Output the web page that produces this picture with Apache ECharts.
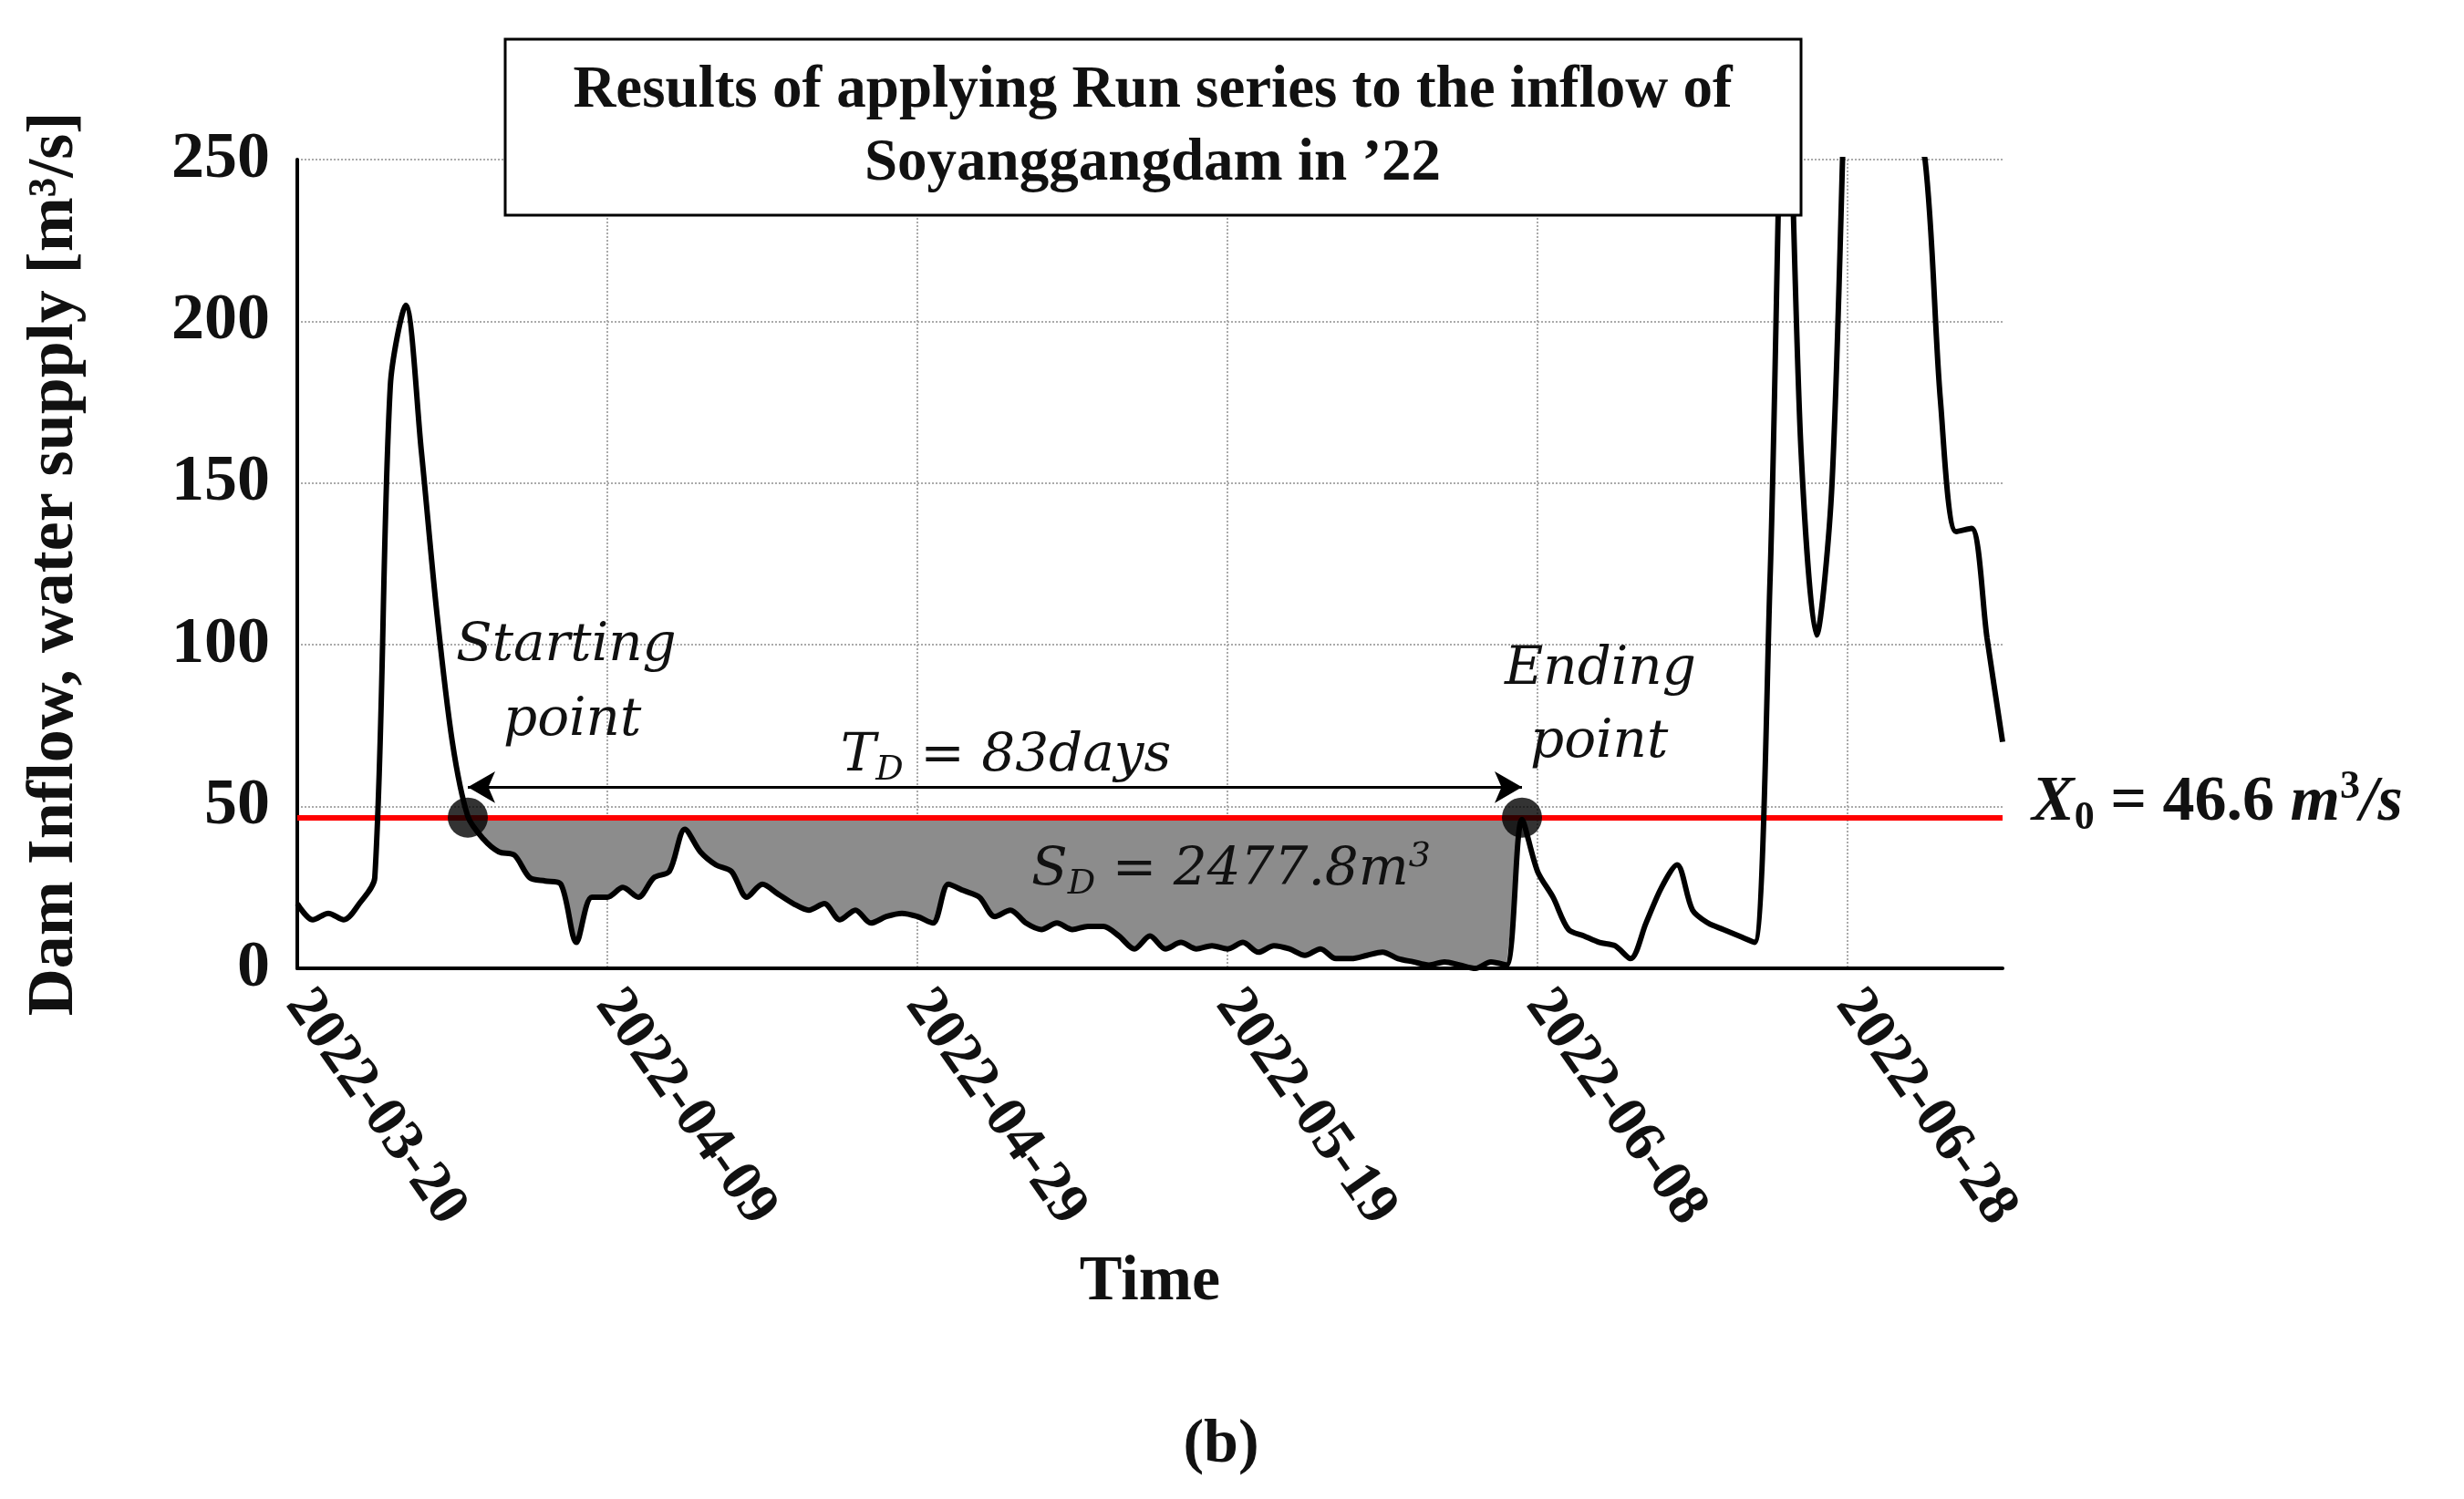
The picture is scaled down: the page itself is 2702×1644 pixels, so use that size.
<!DOCTYPE html>
<html><head><meta charset="utf-8">
<script src="https://cdn.jsdelivr.net/npm/echarts@6/dist/echarts.min.js"></script>
<style>html,body{margin:0;background:#fff}#c{width:2702px;height:1644px}</style>
</head><body><div id="c"></div>
<script>
// daily inflow, m3/s, starting 2022-03-20
var inflow = [20,15,17,15,20,28,180,205,160,110,70,47,40,36,35,28,27,26,8,22,
  22,25,22,28,30,43,36,32,30,22,26,23,20,18,20,15,18,14,16,17,
  16,14,26,24,22,16,18,14,12,14,12,13,13,10,6,10,6,8,6,7,
  6,8,5,7,6,4,6,3,3,4,5,3,2,1,2,1,0,2,1,46,
  30,22,12,10,8,7,3,14,25,32,18,14,12,10,8,120,300,160,103,150,
  300,400,350,300,260,250,175,135,136,102,70];
var X0 = 46.6;
var startIdx = 11, endIdx = 79;

var dates = [];
var d0 = new Date(Date.UTC(2022,2,20));
for (var i = 0; i < inflow.length; i++) {
  var d = new Date(d0.getTime() + i*86400000);
  dates.push(d.toISOString().slice(0,10));
}
var base = inflow.map(function(v,i){ return (i>=startIdx && i<=endIdx) ? Math.min(v,X0) : '-'; });
var deficit = inflow.map(function(v,i){ return (i>=startIdx && i<=endIdx) ? Math.max(X0-v,0) : '-'; });

var serif = '"Liberation Serif","DejaVu Serif",serif';
var chart = echarts.init(document.getElementById('c'));
var txt = function(x,y,t){
  return {type:'text', left:x, top:y, style:{text:t, font:'italic 58px "DejaVu Serif",serif', fill:'#111'}, z:20};
};
chart.setOption({
  animation:false,
  grid:{left:326, top:175, width:1870, height:887},
  xAxis:{type:'category', data:dates, boundaryGap:false,
    axisLine:{lineStyle:{color:'#000',width:4}}, axisTick:{show:false},
    axisLabel:{interval:19, rotate:-55, fontFamily:serif, fontWeight:'bold', fontSize:64, color:'#111', margin:30},
    splitLine:{show:true, interval:19, lineStyle:{type:'dotted', color:'#aaa', width:2}},
    name:'Time', nameLocation:'middle', nameGap:310,
    nameTextStyle:{fontFamily:serif, fontWeight:'bold', fontSize:70, color:'#111'}},
  yAxis:{type:'value', min:0, max:250, interval:50,
    axisLine:{show:true, lineStyle:{color:'#000',width:4}}, axisTick:{show:false},
    axisLabel:{fontFamily:serif, fontWeight:'bold', fontSize:72, color:'#111', margin:30},
    splitLine:{lineStyle:{type:'dotted', color:'#aaa', width:2}},
    name:'Dam Inflow, water supply [m³/s]', nameLocation:'middle', nameGap:230,
    nameTextStyle:{fontFamily:serif, fontWeight:'bold', fontSize:72, color:'#111'}},
  series:[
    {type:'line', data:base, stack:'d', symbol:'none', lineStyle:{opacity:0}, z:1},
    {type:'line', data:deficit, stack:'d', symbol:'none', lineStyle:{opacity:0},
      areaStyle:{color:'#8c8c8c', opacity:1}, z:1},
    {type:'line', data:inflow, symbol:'none', smooth:0.3, lineStyle:{color:'#000', width:6}, z:5,
      markLine:{silent:true, symbol:'none', label:{show:false},
        lineStyle:{color:'#ff0000', width:6, type:'solid'}, data:[{yAxis:X0}]}},
    {type:'line', data:[], markLine:{silent:true, symbol:['arrow','arrow'], symbolSize:[26,30],
        label:{show:false}, lineStyle:{color:'#000', width:3, type:'solid'},
        data:[[{xAxis:startIdx, yAxis:56},{xAxis:endIdx, yAxis:56}]]}},
    {type:'scatter', data:[[startIdx,X0],[endIdx,X0]], symbolSize:44, itemStyle:{color:'#000'}, z:10}
  ],
  graphic:[
    {type:'rect', shape:{x:554, y:43, width:1421, height:193}, style:{fill:'#fff', stroke:'#000', lineWidth:3}, z:15},
    {type:'text', x:1264, y:140, style:{text:'Results of applying Run series to the inflow of\nSoyanggangdam in \u201922',
      font:'bold 65px '+serif, fill:'#111', align:'center', verticalAlign:'middle', lineHeight:80}, z:16},
    txt(500,680,'Starting'), txt(552,762,'point'),
    txt(1650,706,'Ending'), txt(1678,786,'point'),
    {type:'text', x:1103, y:830, z:20, style:{align:'center', verticalAlign:'middle',
      text:'{i|T}{s|D}{i| = 83days}', rich:{i:{font:'italic 58px "DejaVu Serif",serif', fill:'#111'}, s:{font:'italic 38px "DejaVu Serif",serif', fill:'#111', padding:[30,0,0,0]}}}},
    {type:'text', x:1350, y:955, z:20, style:{align:'center', verticalAlign:'middle',
      text:'{i|S}{s|D}{i| = 2477.8m}{p|3}', rich:{i:{font:'italic 58px "DejaVu Serif",serif', fill:'#111'}, s:{font:'italic 38px "DejaVu Serif",serif', fill:'#111', padding:[30,0,0,0]}, p:{font:'italic 38px "DejaVu Serif",serif', fill:'#111', padding:[0,0,30,0]}}}},
    {type:'text', left:2228, top:842, z:20, style:{
      text:'{i|X}{s|0}{b| = 46.6 }{i|m}{p|3}{i|/s}', rich:{i:{font:'bold italic 70px '+serif, fill:'#111'}, b:{font:'bold 70px '+serif, fill:'#111'}, s:{font:'bold 44px '+serif, fill:'#111', padding:[34,0,0,0]}, p:{font:'bold 44px '+serif, fill:'#111', padding:[0,0,34,0]}}}},
    {type:'text', x:1339, y:1585, style:{text:'(b)', font:'bold 68px '+serif, fill:'#111', align:'center', verticalAlign:'middle'}}
  ]
});
</script></body></html>
